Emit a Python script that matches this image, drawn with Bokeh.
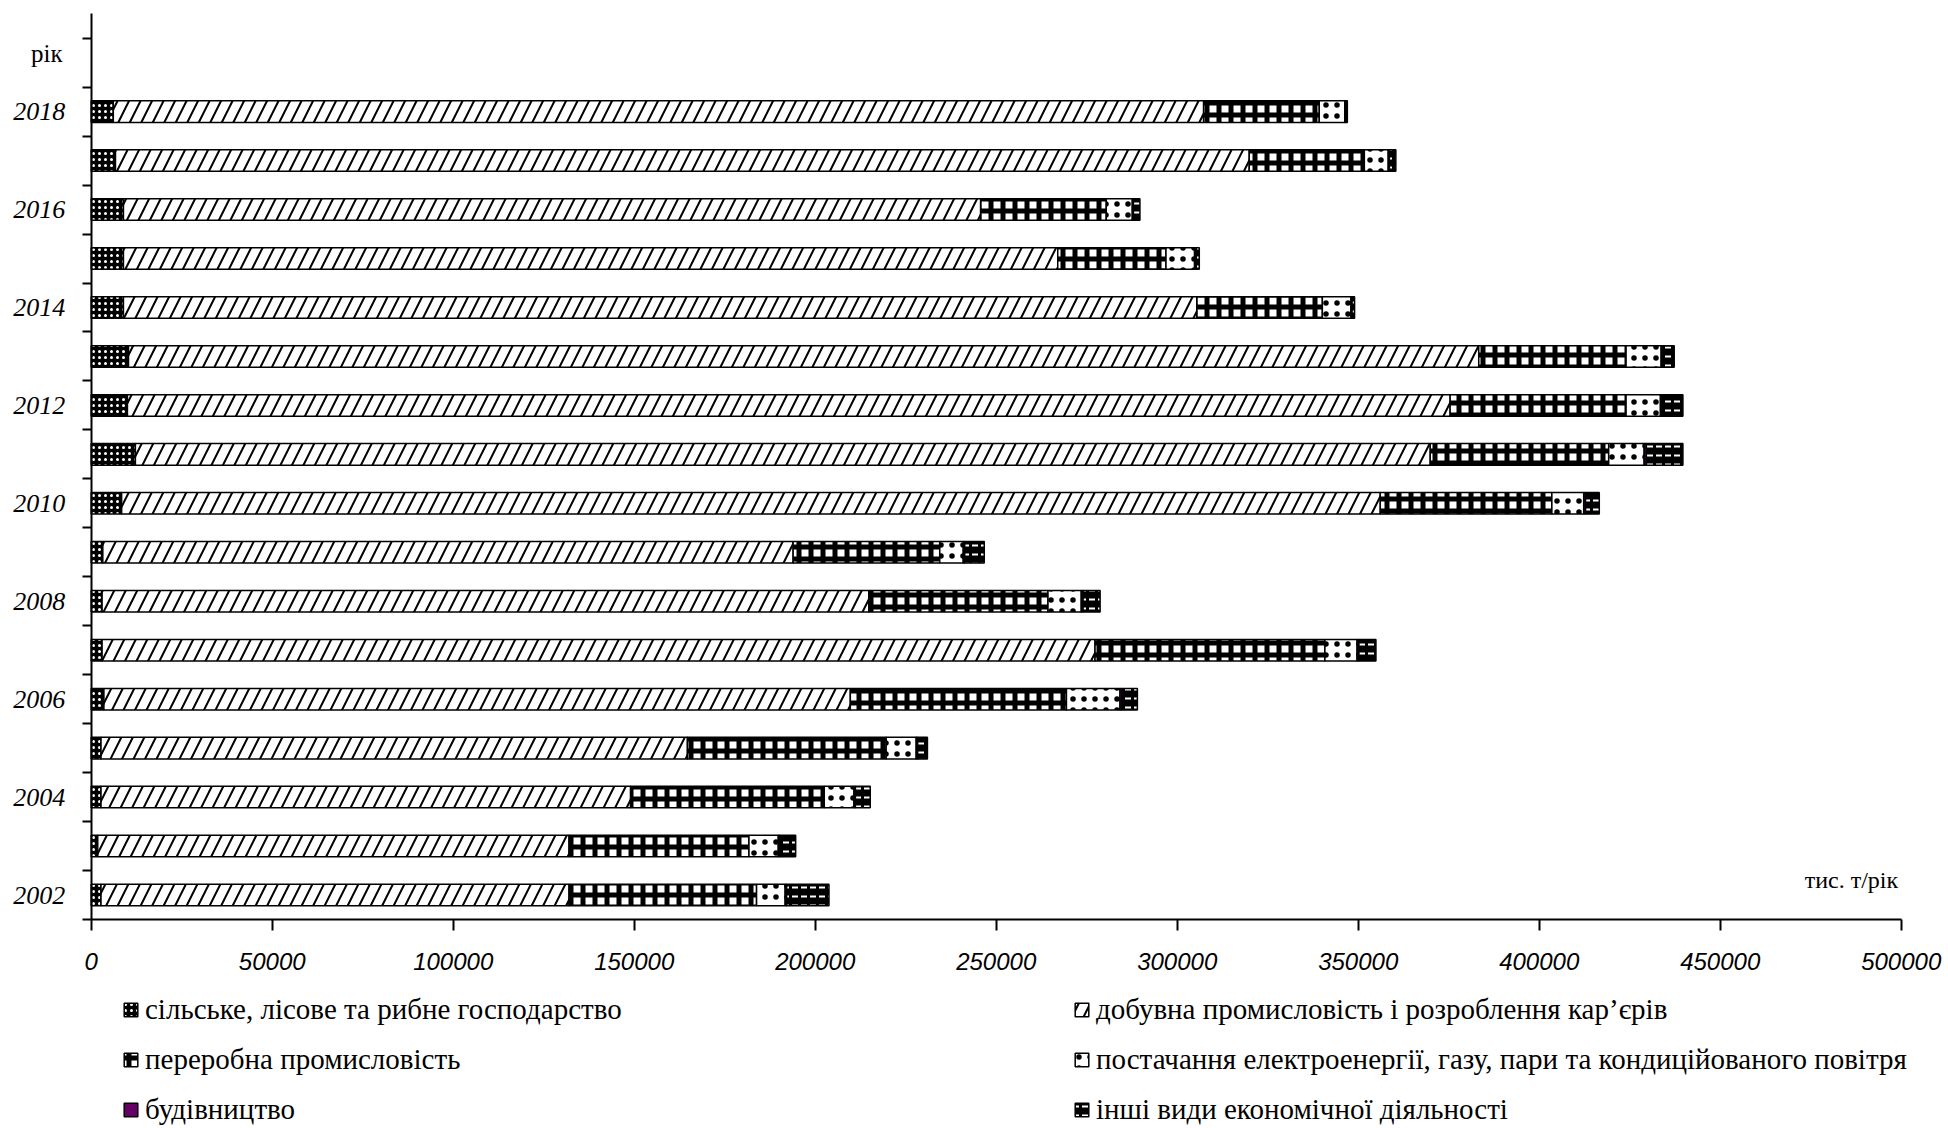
from bokeh.plotting import figure
from bokeh.models import (Range1d, FixedTicker, BasicTickFormatter, Legend,
                          LegendItem, Label, ColumnDataSource)
from bokeh.embed import file_html
from bokeh.resources import INLINE

# ---- data (thousand tonnes per year) ----
years = [2002, 2003, 2004, 2005, 2006, 2007, 2008, 2009, 2010,
         2011, 2012, 2013, 2014, 2015, 2016, 2017, 2018]
agri = [2700, 1800, 2700, 2700, 3500, 3000, 3000, 3200, 8400,
        12200, 10000, 10300, 8900, 8900, 8900, 6700, 6100]
mining = [129300, 130200, 146300, 162000, 206200, 274300, 211800, 190700, 347700,
          357700, 365400, 373000, 296500, 258100, 236800, 313200, 301200]
manuf = [51800, 49700, 53500, 54900, 59700, 63500, 49500, 40500, 47400,
         49300, 48600, 40700, 34700, 29900, 34700, 31800, 31950]
energy = [7900, 8100, 8200, 8300, 14800, 8900, 9200, 6500, 8800,
          9800, 9500, 9700, 7900, 7900, 7200, 6600, 7050]
constr = [400, 400, 400, 400, 500, 500, 500, 400, 500,
          600, 500, 500, 300, 300, 300, 300, 300]
other = [11700, 4400, 4100, 2700, 4300, 4700, 4700, 5400, 3800,
         10100, 5700, 3100, 700, 1000, 1800, 1800, 400]

series_names = ["agri", "mining", "manuf", "energy", "constr", "other"]
series_labels = [
    "сільське, лісове та рибне господарство",
    "добувна промисловість і розроблення кар’єрів",
    "переробна промисловість",
    "постачання електроенергії, газу, пари та кондиційованого повітря",
    "будівництво",
    "інші види економічної діяльності",
]
labeled_years = [2002, 2004, 2006, 2008, 2010, 2012, 2014, 2016, 2018]
x_ticks = [0, 50000, 100000, 150000, 200000, 250000, 300000, 350000, 400000, 450000, 500000]
y_axis_title = "рік"
x_axis_title = "тис. т/рік"

source = ColumnDataSource(dict(y=years, agri=agri, mining=mining, manuf=manuf,
                               energy=energy, constr=constr, other=other))

# the frame covers the whole canvas; the axes are placed at fixed locations
p = figure(width=1948, height=1128, output_backend="svg", toolbar_location=None,
           x_range=Range1d(-25065, 513071), y_range=Range1d(1997.231, 2020.270),
           min_border_left=0, min_border_right=0, min_border_top=0,
           min_border_bottom=0)
p.outline_line_color = None
p.xgrid.visible = False
p.ygrid.visible = False
p.background_fill_color = "white"
p.border_fill_color = "white"

renderers = p.hbar_stack(
    series_names, y="y", height=0.44, source=source,
    fill_color=["black", "white", "white", "white", "#660066", "black"],
    line_color="black", line_width=1.5,
    hatch_pattern=["dot", "right_diagonal_line", "cross", "dot", " ", "horizontal_dash"],
    hatch_color=["white", "black", "black", "black", "white", "white"],
    hatch_scale=[6, 23, 12, 11, 12, 9],
    hatch_weight=[1, 2, 5, 1, 1, 2],
)

# y axis: ticks between categories, labels at every second year
p.yaxis.fixed_location = 0
p.yaxis.bounds = (2001.5, 2020.01)
p.yaxis.ticker = FixedTicker(ticks=labeled_years,
                             minor_ticks=[2001.5 + i for i in range(19)])
p.yaxis.major_tick_out = 0
p.yaxis.major_tick_in = 0
p.yaxis.minor_tick_out = 9
p.yaxis.minor_tick_in = 0
p.yaxis.minor_tick_line_width = 2
p.yaxis.minor_tick_line_color = "black"
p.yaxis.axis_line_width = 2
p.yaxis.axis_line_color = "black"
p.yaxis.major_label_standoff = 17
p.yaxis.major_label_text_font = "Liberation Serif"
p.yaxis.major_label_text_font_style = "italic"
p.yaxis.major_label_text_font_size = "26px"
p.yaxis.major_label_text_color = "black"

# x axis
p.xaxis.fixed_location = 2001.5
p.xaxis.bounds = (0, 500000)
p.xaxis.ticker = FixedTicker(ticks=x_ticks)
p.xaxis.formatter = BasicTickFormatter(use_scientific=False)
p.xaxis.minor_tick_out = 0
p.xaxis.minor_tick_in = 0
p.xaxis.major_tick_out = 11
p.xaxis.major_tick_in = 0
p.xaxis.major_tick_line_width = 2
p.xaxis.axis_line_width = 2
p.xaxis.axis_line_color = "black"
p.xaxis.major_label_standoff = 23
p.xaxis.major_label_text_font = "Liberation Sans"
p.xaxis.major_label_text_font_style = "italic"
p.xaxis.major_label_text_font_size = "24px"
p.xaxis.major_label_text_color = "black"

p.add_layout(Label(x=-7930, y=2019.19, text=y_axis_title, text_align="right",
                   text_baseline="middle", text_font="Liberation Serif",
                   text_font_size="25px", text_color="black"))
p.add_layout(Label(x=499170, y=2002.3, text=x_axis_title, text_align="right",
                   text_baseline="middle", text_font="Liberation Serif",
                   text_font_size="24px", text_color="black"))

legend_style = dict(label_text_font="Liberation Serif", label_text_font_size="29px",
                    label_text_color="black", glyph_width=17, glyph_height=17,
                    label_standoff=6, spacing=17, padding=0, margin=0,
                    label_height=31, border_line_color=None,
                    background_fill_alpha=0)
leg1 = Legend(items=[LegendItem(label=series_labels[i], renderers=[renderers[i]])
                     for i in (0, 2, 4)],
              location=(122, 2), **legend_style)
leg2 = Legend(items=[LegendItem(label=series_labels[i], renderers=[renderers[i]])
                     for i in (1, 3, 5)],
              location=(1073, 2), **legend_style)
p.add_layout(leg1)
p.add_layout(leg2)

open("out.html", "w").write(file_html(p, INLINE))
